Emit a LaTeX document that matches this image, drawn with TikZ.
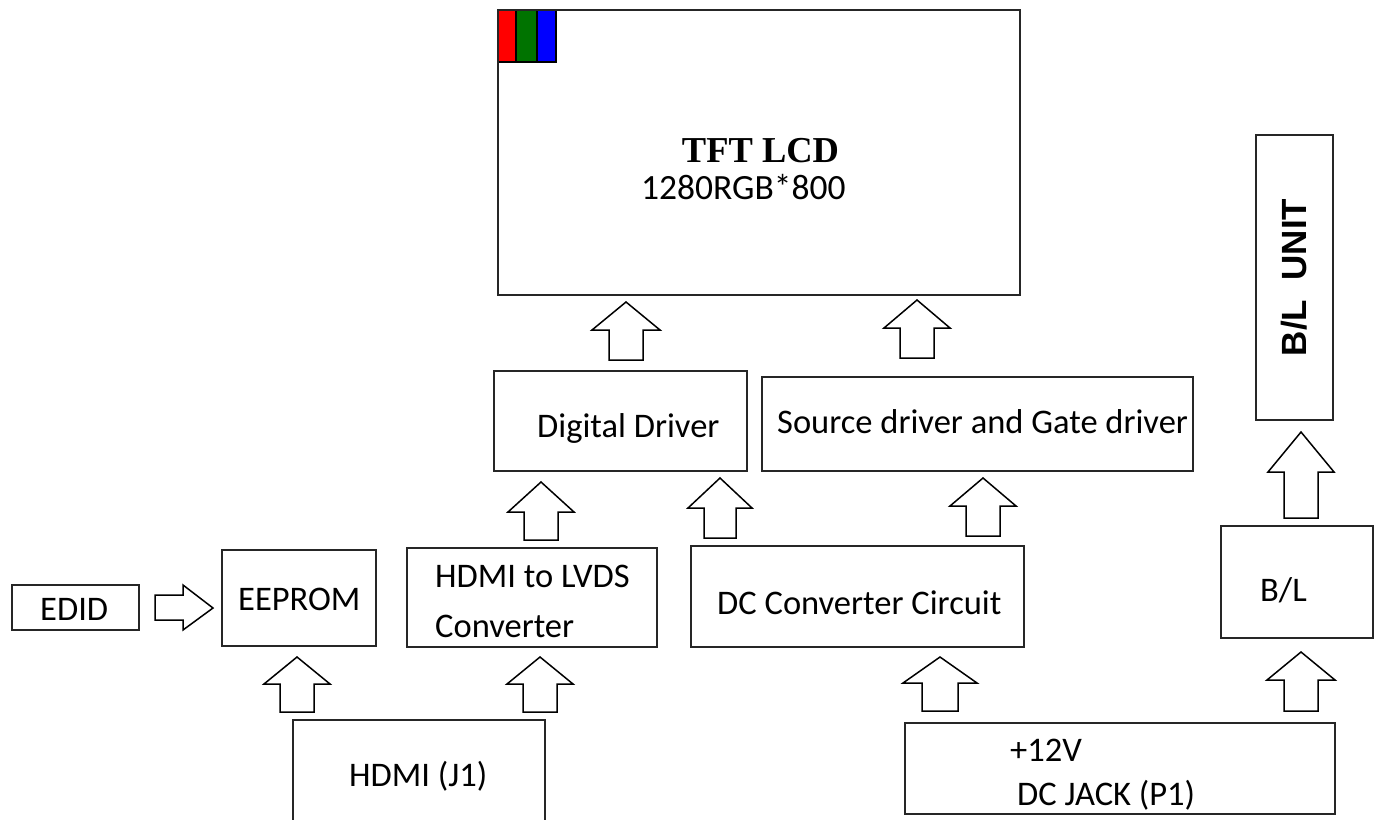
\documentclass[tikz,border=0pt]{standalone}
\usepackage{fontspec}
\setmainfont{Carlito}
\newfontfamily\timesbf{Liberation Serif}
\newfontfamily\arialf{Liberation Sans}
\begin{document}
\begin{tikzpicture}[x=1pt,y=-1pt,
  box/.style={draw=black!85,line width=1.8pt,fill=white},
  blk/.style={draw=black,line width=1.5pt,fill=white,line join=miter},
  lbl/.style={font=\fontsize{34.5}{40}\selectfont,inner sep=0pt,anchor=base west}]
\useasboundingbox (0,0) rectangle (1383,819);
\newcommand\uparr[7]{%
  \draw[blk] (#2,#3) -- (#2+#6,#4) -- (#2+#7,#4) -- (#2+#7,#5) -- (#2-#7,#5) -- (#2-#7,#4) -- (#2-#6,#4) -- cycle;
  \coordinate (#1) at (#2,#4);}
% LCD
\node[box,minimum width=522pt,minimum height=285pt,inner sep=0pt] (lcd) at (759,152.5) {};
\fill[red] (498,10) rectangle (516,62);
\fill[black!55!green] (516,10) rectangle (537,62);
\fill[blue] (537,10) rectangle (556,62);
\draw[line width=1.8pt] (498,62) -- (556,62) -- (556,10);
\draw[line width=1.2pt] (516,10) -- (516,62) (537,10) -- (537,62);
\draw[box,fill=none] (498,10) rectangle (1020,295);
\node[inner sep=0pt,anchor=base] (tft) at (760.5,162) {\timesbf\bfseries\fontsize{36.5}{42}\selectfont TFT LCD};
\node[lbl,font=\fontsize{35.5}{40}\selectfont] (res) at (641,199) {1280RGB*800};
% Boxes
\node[box,minimum width=253pt,minimum height=100pt,inner sep=0pt] (dig) at (620.5,421) {};
\node[lbl] at (537,437) {Digital Driver};
\node[box,minimum width=431pt,minimum height=94pt,inner sep=0pt] (src) at (977.5,424) {};
\node[lbl] at (777,433) {Source driver and Gate driver};
\node[box,minimum width=77pt,minimum height=285pt,inner sep=0pt] (blu) at (1294.5,277.5) {};
\node[inner sep=0pt,rotate=90,font=\arialf\bfseries\fontsize{35}{40}\selectfont] at (1294.5,277.5) {B/L~~UNIT};
\node[box,minimum width=152pt,minimum height=112pt,inner sep=0pt] (bl) at (1297,582) {};
\node[lbl] at (1260,601) {B/L};
\node[box,minimum width=333pt,minimum height=101pt,inner sep=0pt] (dcc) at (857.5,596.5) {};
\node[lbl] at (717,614) {DC Converter Circuit};
\node[box,minimum width=250pt,minimum height=99pt,inner sep=0pt] (lvds) at (532,597.5) {};
\node[lbl] at (435,587) {HDMI to LVDS};
\node[lbl] at (435,637) {Converter};
\node[box,minimum width=154pt,minimum height=96pt,inner sep=0pt] (eep) at (299,598) {};
\node[lbl] at (238,610) {EEPROM};
\node[box,minimum width=127pt,minimum height=45pt,inner sep=0pt] (edid) at (75.5,607.5) {};
\node[lbl] at (40,620) {EDID};
\node[box,minimum width=430pt,minimum height=91pt,inner sep=0pt] (jack) at (1120,768.5) {};
\node[lbl] at (1010,761) {+12V};
\node[lbl] at (1017,805) {DC JACK (P1)};
\draw[box,fill=none] (293,830) -- (293,720) -- (545,720) -- (545,830);
\coordinate (hdmi) at (419,770);
\node[lbl] at (349,786) {HDMI (J1)};
% block arrows
\uparr{a1}{626}{302}{330}{360}{34}{17}
\uparr{a2}{917}{300}{328}{358}{33}{17}
\uparr{a3}{1301}{432}{472}{518}{33}{17}
\uparr{a4}{541}{482}{512}{540}{33}{17}
\uparr{a5}{720}{478}{508}{538}{32}{16}
\uparr{a6}{983}{478}{506}{536}{33}{17}
\uparr{a7}{297}{657}{684}{712}{33}{17}
\uparr{a8}{540}{657}{684}{712}{33}{17}
\uparr{a9}{940}{657}{683}{711}{37}{18}
\uparr{a10}{1301}{652}{680}{711}{34}{17}
\draw[blk] (213,608) -- (183,585) -- (183,595) -- (155,595) -- (155,620) -- (183,620) -- (183,630) -- cycle;
\coordinate (ar) at (183,608);
\end{tikzpicture}
\end{document}
